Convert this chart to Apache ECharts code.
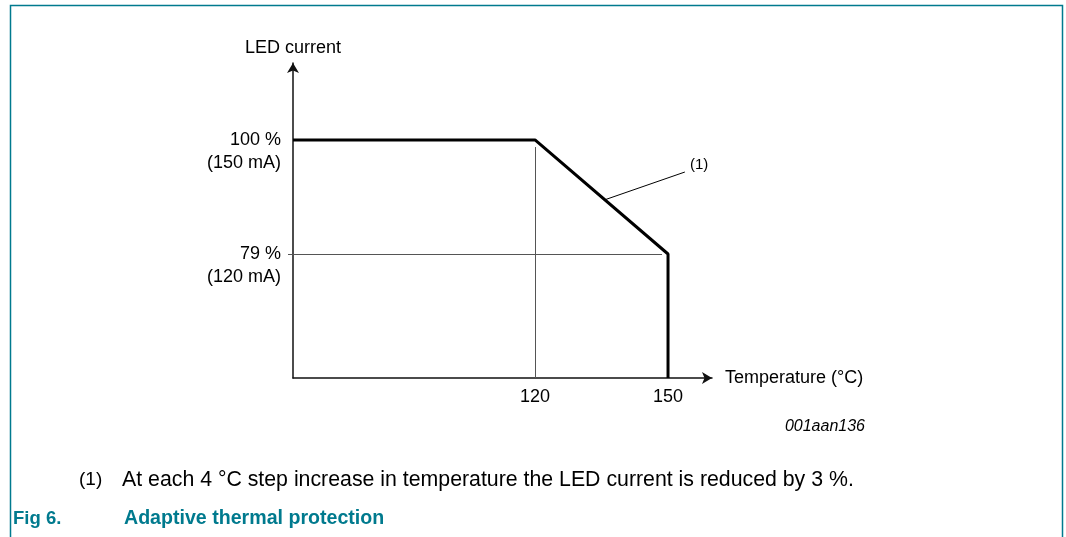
<!DOCTYPE html>
<html lang="en">
<head>
<meta charset="UTF-8">
<title>Adaptive thermal protection</title>
<script src="https://cdn.jsdelivr.net/npm/echarts@6/dist/echarts.min.js"></script>
<style>
  html, body { margin: 0; padding: 0; background: #fff; }
  #main { width: 1066px; height: 537px; }
</style>
</head>
<body>
<div id="main"></div>
<script>
  // axis range (schematic, origin is not zero)
  const tempMin = 65.41, tempMax = 159.92;
  const currMin = 56.16, currMax = 114.18;

  // the derating curve
  const tempPts = [tempMin, 120, 150, 150];
  const currentPts = [100, 100, 79, currMin];

  // tick labels
  const xTicks = [120, 150];
  const yTicks = [100, 79];
  const yTickLabels = { 100: ['100 %', '(150 mA)'], 79: ['79 %', '(120 mA)'] };

  const teal = '#007a8e';
  const font = '"Liberation Sans", Arial, sans-serif';

  const chart = echarts.init(document.getElementById('main'));

  const option = {
    animation: false,
    textStyle: { fontFamily: font },
    grid: { left: 293, right: 354, top: 63, bottom: 159 },
    xAxis: {
      type: 'value',
      min: tempMin,
      max: tempMax,
      name: 'Temperature (°C)',
      nameLocation: 'end',
      nameGap: 13,
      nameTextStyle: { fontSize: 18, color: '#000', fontFamily: font },
      axisLine: { show: true, symbol: ['none', 'arrow'], symbolSize: [9, 10], lineStyle: { color: '#111', width: 1.5 } },
      axisTick: { show: false },
      splitLine: { show: false },
      axisLabel: { customValues: xTicks, margin: 10, fontSize: 18, color: '#000', fontFamily: font }
    },
    yAxis: {
      type: 'value',
      min: currMin,
      max: currMax,
      name: 'LED current',
      nameLocation: 'end',
      nameGap: 6,
      nameTextStyle: { fontSize: 18, color: '#000', fontFamily: font },
      axisLine: { show: true, symbol: ['none', 'arrow'], symbolSize: [9, 10], lineStyle: { color: '#111', width: 1.5 } },
      axisTick: { show: true, customValues: [79], length: 5, lineStyle: { color: '#555', width: 1 } },
      splitLine: { show: false },
      axisLabel: {
        customValues: yTicks,
        margin: 12,
        fontSize: 18,
        lineHeight: 23,
        color: '#000',
        fontFamily: font,
        formatter: function (v) {
          const l = yTickLabels[Math.round(v)];
          return l ? ' \n' + l[0] + '\n' + l[1] : '';
        }
      }
    },
    series: [
      {
        type: 'line',
        data: tempPts.map((t, i) => [t, currentPts[i]]),
        symbol: 'none',
        z: 5,
        lineStyle: { color: '#000', width: 3 },
        markLine: {
          silent: true,
          symbol: ['none', 'none'],
          z: 2,
          label: { show: false },
          data: [
            [{ coord: [120, 98.7], lineStyle: { color: '#555', width: 1, type: 'solid' } },
             { coord: [120, currMin] }],
            [{ coord: [tempMin, 79], lineStyle: { color: '#555', width: 1, type: 'solid' } },
             { coord: [148.65, 79] }],
            [{ coord: [135.8, 89], lineStyle: { color: '#000', width: 1, type: 'solid' } },
             { coord: [153.8, 94.1] }]
          ]
        },
        markPoint: {
          silent: true,
          symbol: 'circle',
          symbolSize: 0,
          data: [{ coord: [157.0, 95.4], value: '(1)' }],
          label: { show: true, position: 'inside', formatter: '(1)', fontSize: 15, color: '#000', fontFamily: font }
        }
      }
    ],
    graphic: [
      { type: 'polyline', silent: true,
        shape: { points: [[10.5, 537], [10.5, 5.5], [1062.5, 5.5], [1062.5, 537]] },
        style: { stroke: teal, lineWidth: 1.5, fill: null } },
      { type: 'text', x: 865, y: 427,
        style: { text: '001aan136', fontSize: 16, fontStyle: 'italic', fontFamily: font, fill: '#000', align: 'right', verticalAlign: 'middle' } },
      { type: 'text', x: 79, y: 480,
        style: { text: '(1)', fontSize: 19, fontFamily: font, fill: '#000', verticalAlign: 'middle' } },
      { type: 'text', x: 122, y: 480,
        style: { text: 'At each 4 °C step increase in temperature the LED current is reduced by 3 %.', fontSize: 21.3, fontFamily: font, fill: '#000', verticalAlign: 'middle' } },
      { type: 'text', x: 13, y: 519,
        style: { text: 'Fig 6.', fontSize: 18.5, fontWeight: 'bold', fontFamily: font, fill: teal, verticalAlign: 'middle' } },
      { type: 'text', x: 124, y: 519,
        style: { text: 'Adaptive thermal protection', fontSize: 19.6, fontWeight: 'bold', fontFamily: font, fill: teal, verticalAlign: 'middle' } }
    ]
  };

  chart.setOption(option);
</script>
</body>
</html>
